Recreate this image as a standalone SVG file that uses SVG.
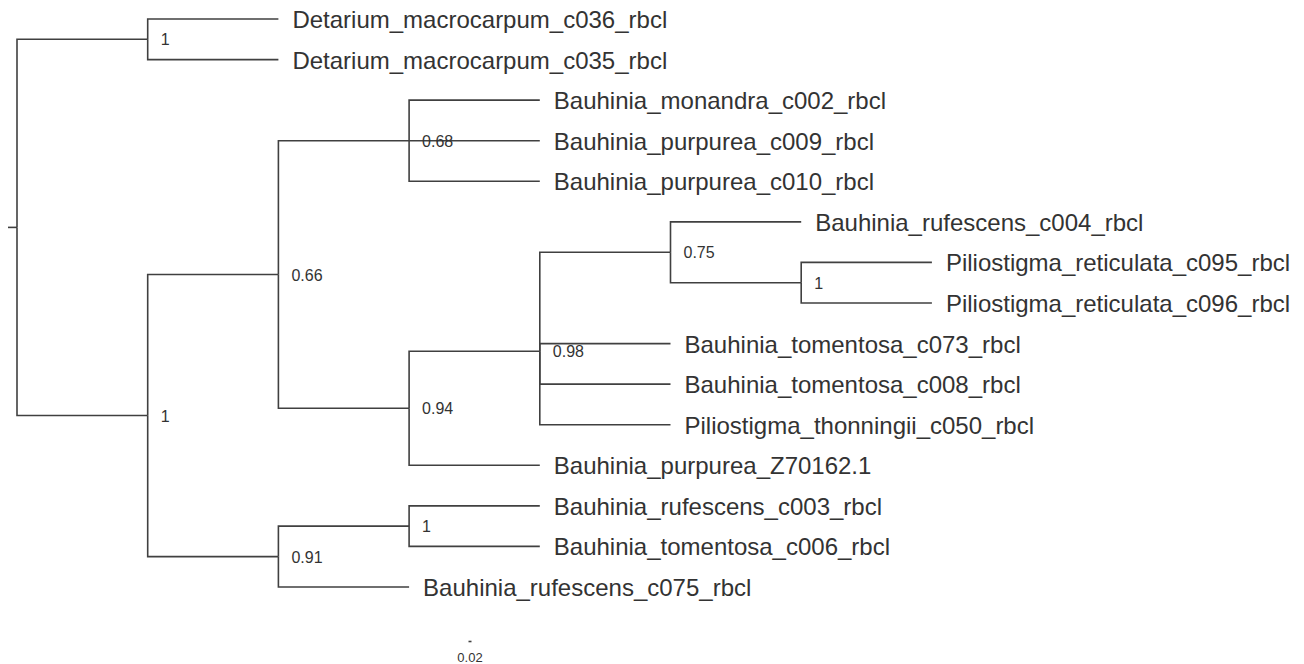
<svg xmlns="http://www.w3.org/2000/svg" width="1304" height="664" viewBox="0 0 1304 664">
<style>
  .e { fill: none; stroke: #404040; stroke-width: 1.6; }
  .tip { font-family: "Liberation Sans", Arial, sans-serif; font-size: 24px; fill: #333333; }
  .sup { font-family: "Liberation Sans", Arial, sans-serif; font-size: 16px; fill: #333333; }
  .sc { font-family: "Liberation Sans", Arial, sans-serif; font-size: 13px; fill: #333333; text-anchor: middle; }
</style>
<rect width="1304" height="664" fill="#ffffff"/>
<g id="connectors">
  <path class="e" d="M8 227.4 H17"/>
  <path class="e" d="M17 227.4 V39.3 H147.7"/>
  <path class="e" d="M17 227.4 V415.5 H147.7"/>
  <path class="e" d="M147.7 39.3 V19 H278.4"/>
  <path class="e" d="M147.7 39.3 V59.6 H278.4"/>
  <path class="e" d="M147.7 415.5 V274.5 H278.4"/>
  <path class="e" d="M147.7 415.5 V556.6 H278.4"/>
  <path class="e" d="M278.4 274.5 V140.7 H409.1"/>
  <path class="e" d="M278.4 274.5 V408.2 H409.1"/>
  <path class="e" d="M409.1 140.7 V100.1 H539.8"/>
  <path class="e" d="M409.1 140.7 H539.8"/>
  <path class="e" d="M409.1 140.7 V181.3 H539.8"/>
  <path class="e" d="M409.1 408.2 V351.2 H539.8"/>
  <path class="e" d="M409.1 408.2 V465.3 H539.8"/>
  <path class="e" d="M539.8 351.2 V252.3 H670.5"/>
  <path class="e" d="M539.8 351.2 V343.6 H670.5"/>
  <path class="e" d="M539.8 351.2 V384.1 H670.5"/>
  <path class="e" d="M539.8 351.2 V424.7 H670.5"/>
  <path class="e" d="M670.5 252.3 V221.9 H801.2"/>
  <path class="e" d="M670.5 252.3 V282.7 H801.2"/>
  <path class="e" d="M801.2 282.7 V262.4 H931.9"/>
  <path class="e" d="M801.2 282.7 V303 H931.9"/>
  <path class="e" d="M278.4 556.6 V526.1 H409.1"/>
  <path class="e" d="M278.4 556.6 V587 H409.1"/>
  <path class="e" d="M409.1 526.1 V505.9 H539.8"/>
  <path class="e" d="M409.1 526.1 V546.4 H539.8"/>
</g>
<g id="tip-detarium-c036"><text class="tip" x="292.4" y="28">Detarium_macrocarpum_c036_rbcl</text></g>
<g id="tip-detarium-c035"><text class="tip" x="292.4" y="68.6">Detarium_macrocarpum_c035_rbcl</text></g>
<g id="tip-monandra-c002"><text class="tip" x="553.8" y="109.1">Bauhinia_monandra_c002_rbcl</text></g>
<g id="tip-purpurea-c009"><text class="tip" x="553.8" y="149.7">Bauhinia_purpurea_c009_rbcl</text></g>
<g id="tip-purpurea-c010"><text class="tip" x="553.8" y="190.3">Bauhinia_purpurea_c010_rbcl</text></g>
<g id="tip-rufescens-c004"><text class="tip" x="815.2" y="230.9">Bauhinia_rufescens_c004_rbcl</text></g>
<g id="tip-reticulata-c095"><text class="tip" x="945.9" y="271.4">Piliostigma_reticulata_c095_rbcl</text></g>
<g id="tip-reticulata-c096"><text class="tip" x="945.9" y="312">Piliostigma_reticulata_c096_rbcl</text></g>
<g id="tip-tomentosa-c073"><text class="tip" x="684.5" y="352.6">Bauhinia_tomentosa_c073_rbcl</text></g>
<g id="tip-tomentosa-c008"><text class="tip" x="684.5" y="393.1">Bauhinia_tomentosa_c008_rbcl</text></g>
<g id="tip-thonningii-c050"><text class="tip" x="684.5" y="433.7">Piliostigma_thonningii_c050_rbcl</text></g>
<g id="tip-purpurea-Z70162"><text class="tip" x="553.8" y="474.3">Bauhinia_purpurea_Z70162.1</text></g>
<g id="tip-rufescens-c003"><text class="tip" x="553.8" y="514.9">Bauhinia_rufescens_c003_rbcl</text></g>
<g id="tip-tomentosa-c006"><text class="tip" x="553.8" y="555.4">Bauhinia_tomentosa_c006_rbcl</text></g>
<g id="tip-rufescens-c075"><text class="tip" x="423.1" y="596">Bauhinia_rufescens_c075_rbcl</text></g>
<g id="node-detarium"><text class="sup" x="160.7" y="45.3">1</text></g>
<g id="node-ingroup"><text class="sup" x="160.7" y="421.5">1</text></g>
<g id="node-066"><text class="sup" x="291.4" y="280.5">0.66</text></g>
<g id="node-068"><text class="sup" x="422.1" y="146.7">0.68</text></g>
<g id="node-094"><text class="sup" x="422.1" y="414.2">0.94</text></g>
<g id="node-098"><text class="sup" x="552.8" y="357.2">0.98</text></g>
<g id="node-075"><text class="sup" x="683.5" y="258.3">0.75</text></g>
<g id="node-reticulata"><text class="sup" x="814.2" y="288.7">1</text></g>
<g id="node-091"><text class="sup" x="291.4" y="562.6">0.91</text></g>
<g id="node-c003-c006"><text class="sup" x="422.1" y="532.1">1</text></g>
<g id="scale-bar">
  <path class="e" d="M468.5 641.5 H471.5"/>
  <text class="sc" x="470" y="661.5">0.02</text>
</g>
</svg>
